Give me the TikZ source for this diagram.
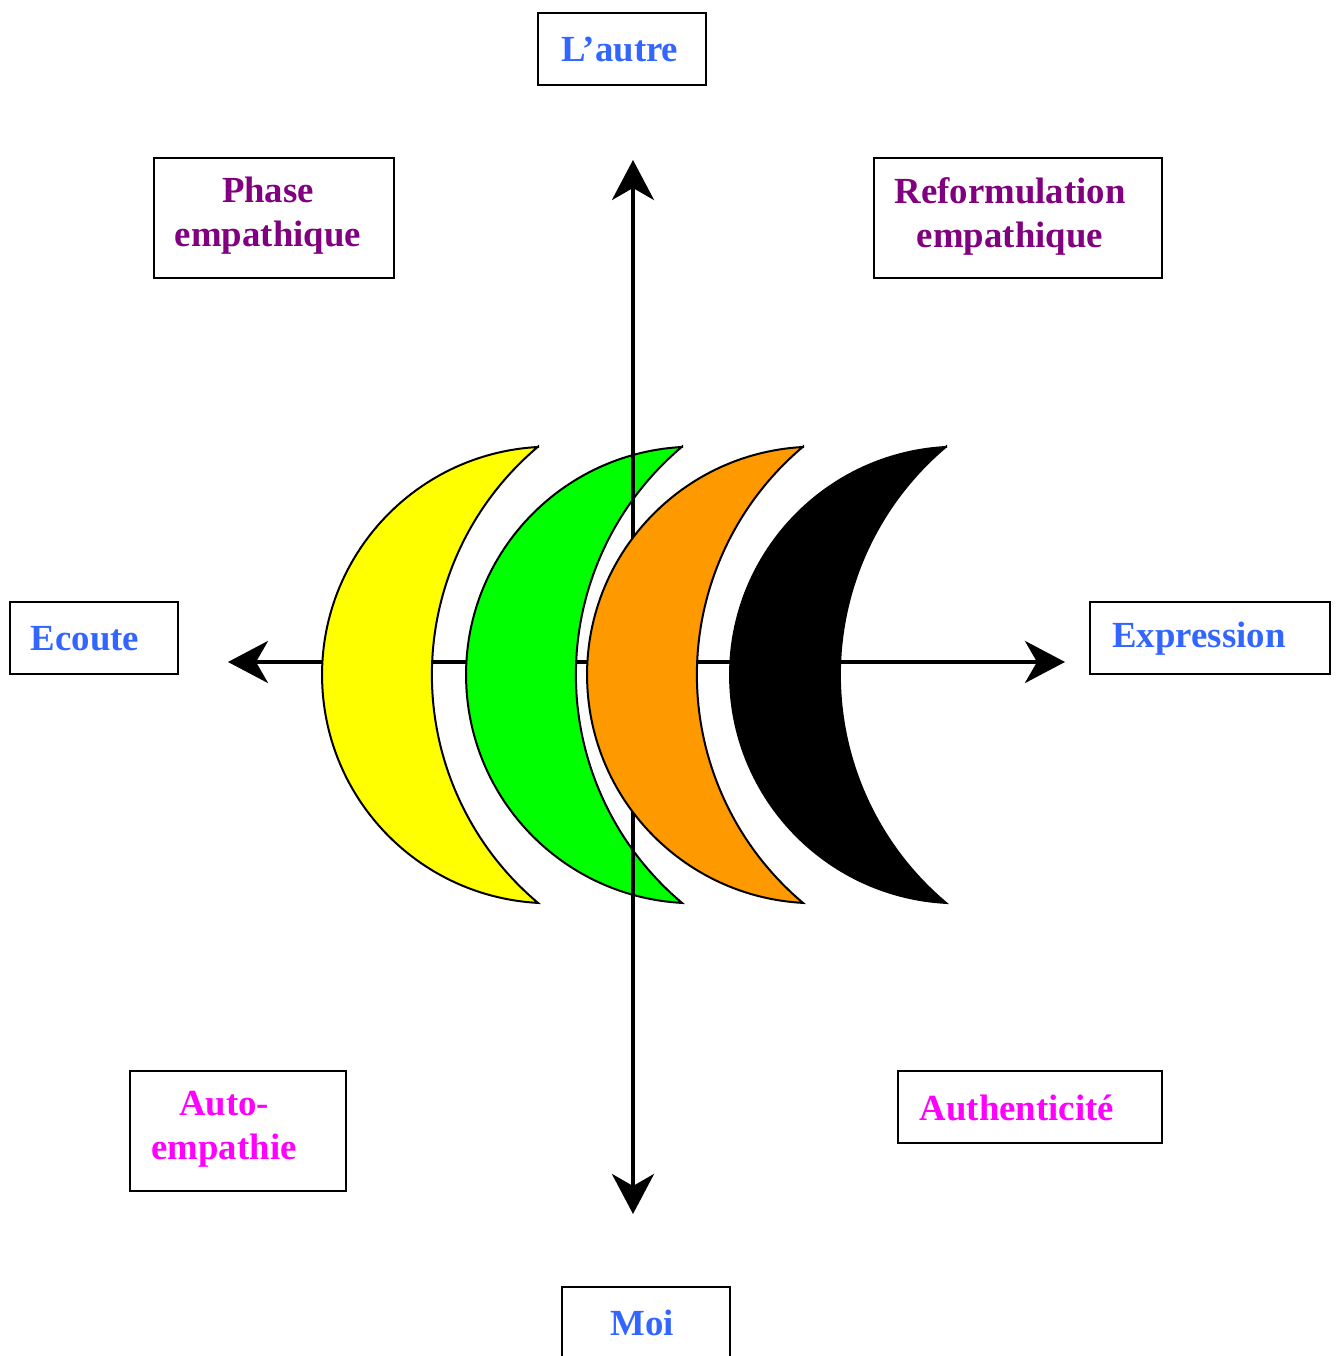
\documentclass[tikz,border=0pt]{standalone}
\usepackage{fontspec}
\setmainfont{Liberation Serif}
\usetikzlibrary{arrows.meta}
\definecolor{tblue}{HTML}{3366FF}
\definecolor{tpurple}{HTML}{800080}
\definecolor{tmagenta}{HTML}{FF00FF}
\definecolor{torange}{HTML}{FF9900}
\definecolor{tgreen}{HTML}{00FF00}
\definecolor{tyellow}{HTML}{FFFF00}
\begin{document}
\begin{tikzpicture}[x=0.5pt,y=0.5pt,
  box/.style={draw=black,line width=1.2pt,fill=white,inner sep=0pt},
  lbl/.style={font=\bfseries\fontsize{18.4}{22}\selectfont,align=center},
  axisline/.style={line width=2pt,{Stealth[length=20pt,width=21pt,inset=6pt]}-{Stealth[length=20pt,width=21pt,inset=6pt]}},
  moonline/.style={draw=black,line width=1pt},
  pics/crescent/.style={code={
    \draw[moonline,fill=#1] (216,228) arc[start angle=93.1,end angle=266.9,radius=228.3]
      arc[start angle=229.9,end angle=130.1,radius=298.2] -- cycle;}}]
\useasboundingbox (0,0) rectangle (1338,1356);
\fill[white] (0,0) rectangle (1338,1356);
% axes end points
\coordinate (west) at (228,694);
\coordinate (east) at (1065,694);
\coordinate (north) at (633,1196);
\coordinate (south) at (633,142);
\draw[axisline] (west) -- (east);
\pic (yel) at (322,681) {crescent=tyellow};
\pic (grn) at (466,681) {crescent=tgreen};
\draw[axisline] (north) -- (south);
\pic (org) at (587,681) {crescent=torange};
\pic (blk) at (730,681) {crescent=black};
% boxes
\node[box,minimum width=84pt,minimum height=36pt,
  label={[lbl,text=tblue,xshift=-1pt,yshift=0pt]center:L’autre}] (autre) at (622,1307) {};
\node[box,minimum width=120pt,minimum height=60pt,
  label={[lbl,text=tpurple,xshift=-3pt,yshift=1pt]center:Phase\\empathique}] (phase) at (274,1138) {};
\node[box,minimum width=144pt,minimum height=60pt,
  label={[lbl,text=tpurple,xshift=-4pt,yshift=1pt]center:Reformulation\\empathique}] (reform) at (1018,1138) {};
\node[box,minimum width=84pt,minimum height=36pt,
  label={[lbl,text=tblue,xshift=-4.5pt,yshift=-0.5pt]center:Ecoute}] (ecoute) at (94,718) {};
\node[box,minimum width=120pt,minimum height=36pt,
  label={[lbl,text=tblue,xshift=-5.5pt,yshift=-0.5pt]center:Expression}] (expr) at (1210,718) {};
\node[box,minimum width=108pt,minimum height=60pt,
  label={[lbl,text=tmagenta,xshift=-7pt,yshift=1pt]center:Auto-\\empathie}] (auto) at (238,225) {};
\node[box,minimum width=132pt,minimum height=36pt,
  label={[lbl,text=tmagenta,xshift=-6.5pt,yshift=-0.5pt]center:Authenticité}] (authent) at (1030,249) {};
\node[box,minimum width=84pt,minimum height=36pt,
  label={[lbl,text=tblue,xshift=-2pt,yshift=0pt]center:Moi}] (moi) at (646,33) {};
\end{tikzpicture}
\end{document}
